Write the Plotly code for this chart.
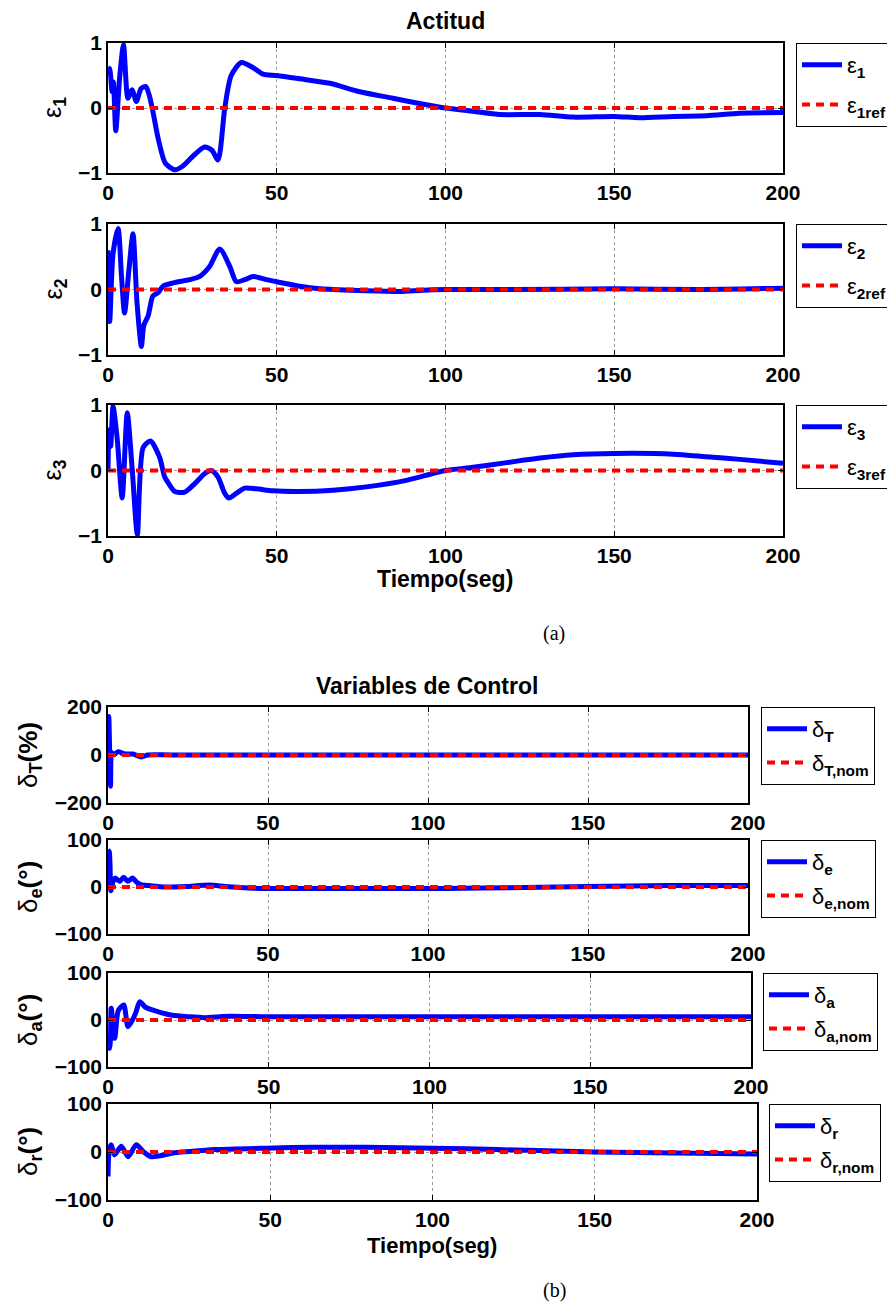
import plotly.graph_objects as go

# page body has an 8px margin, so the figure is drawn 8px right and down
OFF = 8
FW, FH = 887, 1302

# ---------------- data ----------------
ref_t = [0, 200]

t_eps1 = [0, 0.5, 1.2, 1.6, 2.3, 3.5, 4.6, 5.9, 7.1, 8.4, 9.8, 11.2, 12.2, 13.1, 15, 17, 19.8, 22, 25,
          28.6, 30.8, 32.6, 34.6, 36.5, 39.5, 43, 45.9, 50, 56.8, 65.7, 74.6, 84.4, 94.3, 100, 108.2,
          116.1, 128, 137.8, 150, 157.6, 167.5, 177.3, 187.2, 200]
eps1 = [0.62, 0.6, 0.25, 0.4, -0.35, 0.5, 0.97, 0.15, 0.28, 0.1, 0.3, 0.33, 0.2, 0.0, -0.5, -0.85, -0.95,
        -0.9, -0.75, -0.6, -0.65, -0.8, 0.0, 0.5, 0.7, 0.62, 0.52, 0.5, 0.45, 0.38, 0.25, 0.15, 0.05, 0.0,
        -0.05, -0.1, -0.1, -0.14, -0.13, -0.15, -0.13, -0.12, -0.08, -0.07]
eps1_ref = [0, 0]

t_eps2 = [0, 0.5, 1.5, 3.0, 4.0, 4.9, 6.2, 7.4, 8.6, 9.9, 10.6, 11.9, 13.3, 14.8, 16.3, 19.3, 24.2, 27.2,
          30.1, 33.1, 36.1, 38, 40.5, 43, 46.9, 51.9, 56.8, 62.7, 66.7, 76.5, 86.4, 93.3, 100, 120, 150,
          175, 200]
eps2 = [0.6, -0.49, 0.55, 0.93, 0.2, -0.36, 0.3, 0.85, -0.2, -0.87, -0.55, -0.4, -0.1, -0.05, 0.05, 0.1,
        0.15, 0.2, 0.35, 0.62, 0.35, 0.12, 0.15, 0.2, 0.15, 0.1, 0.05, 0.01, 0.0, -0.02, -0.03, -0.01, 0.0,
        0.0, 0.01, 0.0, 0.02]
eps2_ref = [0, 0]

t_eps3 = [0, 0.3, 0.8, 1.5, 2.7, 4.2, 5.7, 7.2, 8.7, 10.4, 12.6, 15.3, 16.8, 18, 19.8, 22.7, 25.7, 28.6,
          30.6, 32.6, 34.6, 35.8, 38, 40.5, 44, 48.9, 56.8, 66.7, 76.5, 88.4, 96, 100, 108.2, 118.1, 128,
          137.8, 150, 167.5, 177.3, 187.2, 200]
eps3 = [0.0, 0.62, 0.37, 0.98, 0.5, -0.42, 0.88, 0.0, -0.98, 0.35, 0.45, 0.2, -0.1, -0.2, -0.32, -0.33,
        -0.2, -0.05, 0.0, -0.1, -0.35, -0.42, -0.35, -0.27, -0.28, -0.31, -0.32, -0.3, -0.25, -0.15, -0.05,
        0.0, 0.05, 0.12, 0.19, 0.24, 0.26, 0.25, 0.21, 0.17, 0.11]
eps3_ref = [0, 0]

t_dT = [0, 0.25, 0.5, 0.8, 1.1, 1.6, 3.2, 5, 7.8, 10.4, 12.5, 20, 200]
dT = [0, 160, 30, -130, 10, 0, 14, 5, 4, -8, 0, 0, 0]
dT_nom = [0, 0]

t_de = [0, 0.4, 0.9, 1.5, 2.2, 3.7, 4.9, 6.2, 7.7, 9.0, 10.3, 12.9, 18.1, 24.3, 31.6, 36.8, 44.1, 49.3,
        70, 105, 130, 150, 175, 200]
de = [79, 75, -8, 10, 19, 12, 21, 12, 19, 10, 5, 3, 0, 1, 4, 1, -2, -3, -3, -3, -1, 1, 3, 3]
de_nom = [0, 0]

t_da = [0, 0.5, 1.0, 2.1, 3.2, 4.9, 6.2, 7.6, 8.6, 9.9, 11.5, 13.5, 15.5, 17.5, 20, 25, 30, 35, 38,
        50, 100, 150, 200]
da = [-57, -60, 25, -39, 20, 32, -14, 0, 15, 39, 28, 22, 18, 14, 10, 7, 5, 7, 8, 7, 7, 7, 7]
da_nom = [0, 0]

t_dr = [0, 0.4, 1.0, 2.0, 4.1, 6.2, 8.7, 11, 13.3, 16, 20, 25, 33, 48.8, 64, 79.5, 100, 120, 150, 175, 200]
dr = [-51, 5, 15, -6, 12, -10, 15, 0, -10, -8, -2, 1, 5, 8, 10, 10, 8, 5, 0, -2, -4]
dr_nom = [0, 0]

x_ticks = [0, 50, 100, 150, 200]

names_main = ["ε<sub><b>1</b></sub>", "ε<sub><b>2</b></sub>", "ε<sub><b>3</b></sub>",
              "δ<sub><b>T</b></sub>", "δ<sub><b>e</b></sub>", "δ<sub><b>a</b></sub>", "δ<sub><b>r</b></sub>"]
names_ref = ["ε<sub><b>1ref</b></sub>", "ε<sub><b>2ref</b></sub>", "ε<sub><b>3ref</b></sub>",
             "δ<sub><b>T,nom</b></sub>", "δ<sub><b>e,nom</b></sub>", "δ<sub><b>a,nom</b></sub>",
             "δ<sub><b>r,nom</b></sub>"]
ylabels = ["ε<sub><b>1</b></sub>", "ε<sub><b>2</b></sub>", "ε<sub><b>3</b></sub>",
           "δ<sub><b>T</b></sub><b>(%)</b>", "δ<sub><b>e</b></sub><b>(°)</b>",
           "δ<sub><b>a</b></sub><b>(°)</b>", "δ<sub><b>r</b></sub><b>(°)</b>"]

series = [(t_eps1, eps1, eps1_ref), (t_eps2, eps2, eps2_ref), (t_eps3, eps3, eps3_ref),
          (t_dT, dT, dT_nom), (t_de, de, de_nom), (t_da, da, da_nom), (t_dr, dr, dr_nom)]
yranges = [[-1, 1], [-1, 1], [-1, 1], [-200, 200], [-100, 100], [-100, 100], [-100, 100]]
yticks = [[-1, 0, 1], [-1, 0, 1], [-1, 0, 1], [-200, 0, 200], [-100, 0, 100], [-100, 0, 100], [-100, 0, 100]]

# ---------------- layout geometry (page pixels) ----------------
boxes = [(108, 783, 43, 173), (108, 783, 224, 355), (108, 783, 405, 536),
         (108, 748, 707, 803), (108, 748, 840, 934), (108, 751, 973, 1067), (108, 757, 1104, 1200)]
leg_pos = [(796, 43), (796, 224), (796, 405), (761, 707), (761, 840), (763, 973), (769, 1104)]
ylab_x = [54, 54, 54, 29, 29, 29, 29]
ylab_size = [25, 25, 25, 26, 26, 26, 26]


def px(x):
    return (x - OFF) / FW


def py(y):
    return 1 - (y - OFF) / FH


FONT = "Liberation Sans"
fig = go.Figure()
layout = dict(width=FW, height=FH, margin=dict(l=0, r=0, t=0, b=0, autoexpand=False),
              paper_bgcolor="white", plot_bgcolor="white", showlegend=True)
annotations = []

for i, ((t, v, r), box) in enumerate(zip(series, boxes)):
    k = i + 1
    sfx = "" if k == 1 else str(k)
    leg = "legend" if k == 1 else f"legend{k}"
    fig.add_trace(go.Scatter(x=t, y=v, mode="lines", name=names_main[i],
                             line=dict(color="#0000ff", width=5, shape="spline", smoothing=0.7),
                             xaxis=f"x{sfx}", yaxis=f"y{sfx}", legend=leg, legendgroup=f"m{k}"))
    fig.add_trace(go.Scatter(x=ref_t, y=r, mode="lines", name=names_ref[i],
                             line=dict(color="#ff0000", width=4, dash="8px,6px"),
                             xaxis=f"x{sfx}", yaxis=f"y{sfx}", legend=leg, legendgroup=f"r{k}"))
    l, rr, tp, bt = box
    common = dict(showline=True, linecolor="black", linewidth=1.5, mirror="ticks", ticks="inside",
                  ticklen=5, tickcolor="black", zeroline=False, showgrid=True, gridcolor="#9a9a9a",
                  griddash="dot", gridwidth=1,
                  tickfont=dict(family=FONT, size=21, color="black", weight="bold"))
    layout[f"xaxis{sfx}"] = dict(domain=[px(l), px(rr)], range=[0, 200], tickvals=x_ticks,
                                 anchor=f"y{sfx}", **common)
    layout[f"yaxis{sfx}"] = dict(domain=[py(bt), py(tp)], range=yranges[i], tickvals=yticks[i],
                                 anchor=f"x{sfx}", **common)
    lx, ly = leg_pos[i]
    layout[leg] = dict(x=px(lx), y=py(ly), xanchor="left", yanchor="top", bgcolor="white",
                       bordercolor="black", borderwidth=1, tracegroupgap=8 if k <= 3 else 2,
                       itemwidth=40, font=dict(family=FONT, size=22, color="black"))
    annotations.append(dict(text=ylabels[i], x=px(ylab_x[i]), y=py((tp + bt) / 2), xref="paper",
                            yref="paper", xanchor="center", yanchor="middle", textangle=-90,
                            showarrow=False, font=dict(family=FONT, size=ylab_size[i], color="black")))


def label(text, x, y, size=23, family=FONT):
    return dict(text=text, x=px(x), y=py(y), xref="paper", yref="paper", xanchor="center",
                yanchor="middle", showarrow=False, font=dict(family=family, size=size, color="black"))


annotations += [
    label("<b>Actitud</b>", 445, 21),
    label("<b>Tiempo(seg)</b>", 445, 579),
    label("(a)", 554, 634, 20, "Liberation Serif"),
    label("<b>Variables de Control</b>", 427, 686),
    label("<b>Tiempo(seg)</b>", 432, 1245, 22),
    label("(b)", 554, 1290, 20, "Liberation Serif"),
]
layout["annotations"] = annotations
fig.update_layout(**layout)
fig.write_html("out.html")
